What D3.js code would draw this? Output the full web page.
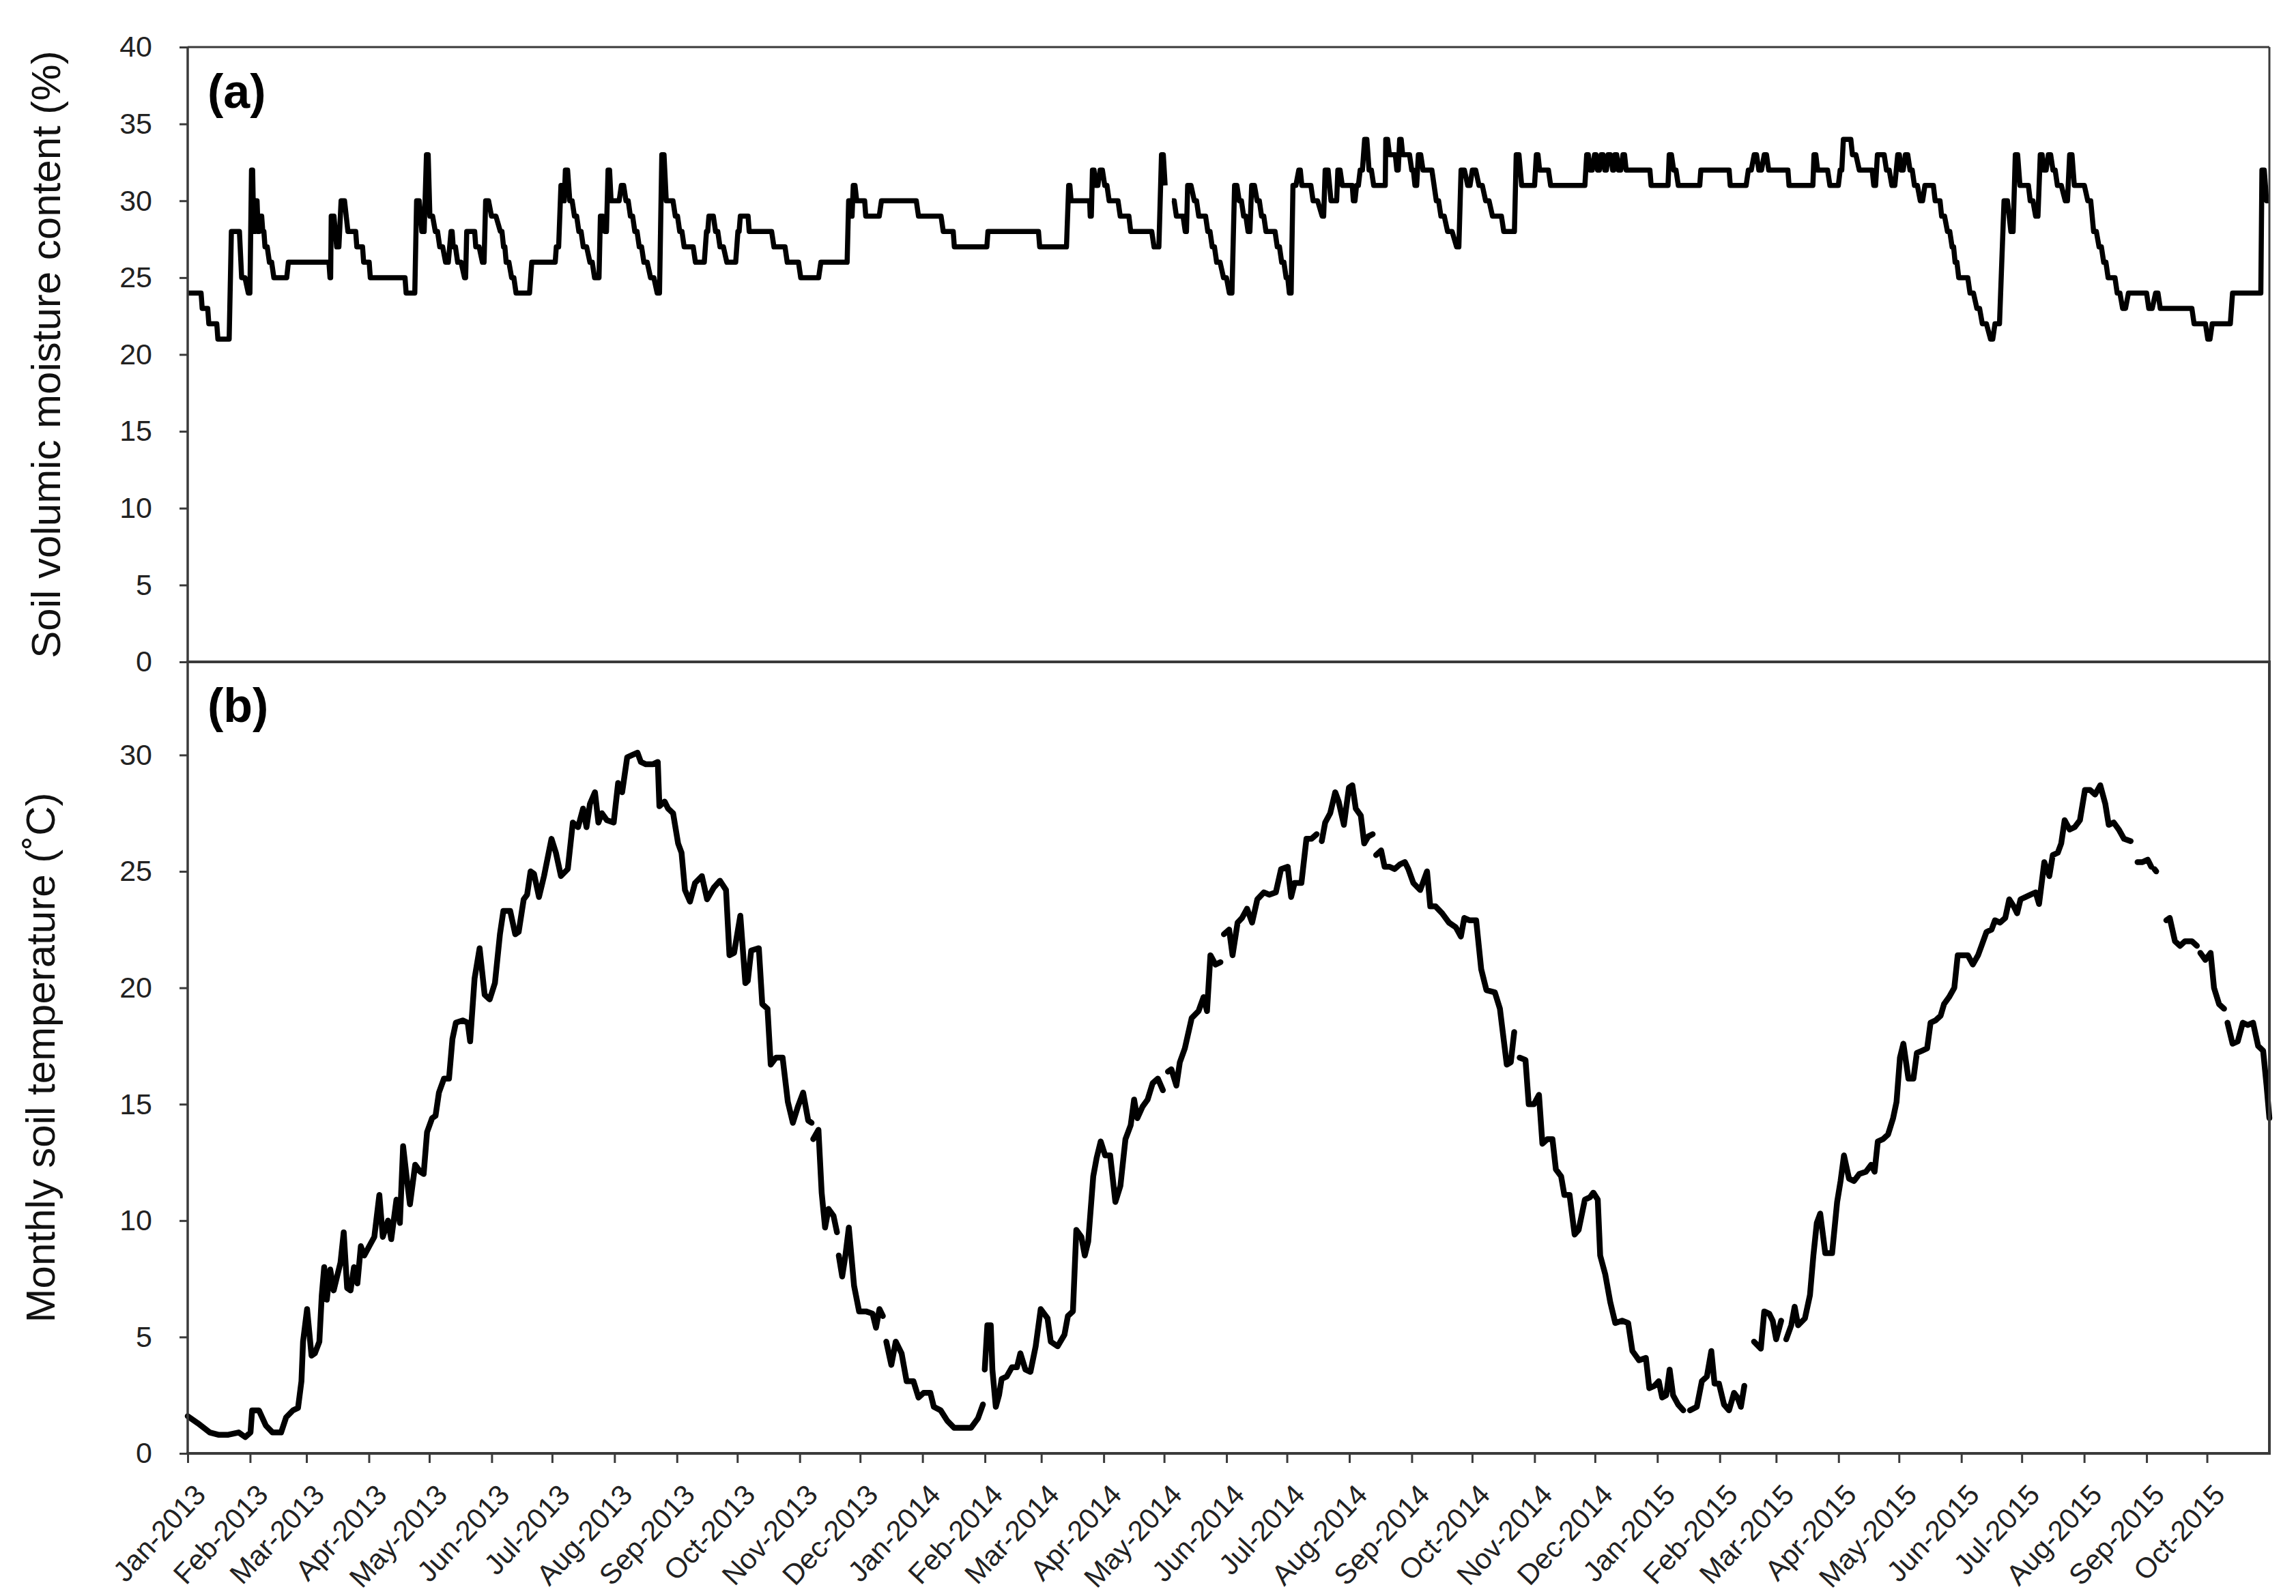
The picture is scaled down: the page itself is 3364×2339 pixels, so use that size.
<!DOCTYPE html>
<html>
<head>
<meta charset="utf-8">
<script src="https://cdn.jsdelivr.net/npm/d3@7"></script>
<style>
html,body{margin:0;padding:0;background:#fff;}
svg{display:block;}
text{font-family:"Liberation Sans",Arial,Helvetica,sans-serif;}
</style>
</head>
<body>
<svg id="chart" width="3364" height="2339"></svg>
<script>
// ---------------- DATA ----------------
const seriesStart = Date.UTC(2013, 0, 1);
const seriesEnd = Date.UTC(2015, 10, 1);

const xTickLabels = ["Jan-2013","Feb-2013","Mar-2013","Apr-2013","May-2013","Jun-2013","Jul-2013","Aug-2013","Sep-2013","Oct-2013","Nov-2013","Dec-2013",
  "Jan-2014","Feb-2014","Mar-2014","Apr-2014","May-2014","Jun-2014","Jul-2014","Aug-2014","Sep-2014","Oct-2014","Nov-2014","Dec-2014",
  "Jan-2015","Feb-2015","Mar-2015","Apr-2015","May-2015","Jun-2015","Jul-2015","Aug-2015","Sep-2015","Oct-2015"];
const moistureTicks = [0,5,10,15,20,25,30,35,40];
const temperatureTicks = [0,5,10,15,20,25,30];

// [day since 1 Jan 2013, soil volumetric moisture %] ; null = missing
const moisture = [[0,24],[6.1,24],[7.2,23],[9.4,23],[10.5,22],[13.9,22],[15,21],[19.5,21],[21.7,28],[24.6,28],[26.8,25],[30.1,24],[31.7,32],[32.8,28],[33.9,30],[35,28],[36.2,29],[37.3,28],[38.4,27],[40.6,26],[42.8,25],[48.4,25],[50,26],[69.6,26],[70.7,25],[71.3,29],[74,27],[76.2,30],[79.6,28],[82.9,28],[84,27],[86.3,27],[87.4,26],[89.6,26],[90.7,25],[107.4,25],[108.5,24],[111.9,24],[113.7,30],[116.3,28],[118.6,33],[120.3,29],[123,28],[125.2,27],[128.1,26],[130.8,28],[131.9,27],[134.1,26],[137.5,25],[138.6,28],[142,28],[143.1,27],[146.4,26],[148,30],[150.9,29],[155.3,28],[156.9,27],[158.2,26],[160.9,25],[163.1,24],[168.7,24],[170.9,26],[182,26],[183.1,27],[185.4,31],[186.5,30],[187.6,32],[189.8,30],[192.1,29],[194.3,28],[196.5,27],[199.8,26],[202.1,25],[203.6,25],[205,29],[207.2,28],[208.8,32],[210.3,30],[213.2,30],[215.4,31],[217.7,30],[219.9,29],[222.1,28],[224.3,27],[226.6,26],[229.9,25],[233.2,24],[235.5,33],[237.7,30],[239.9,30],[242.2,29],[244.4,28],[246.6,27],[250,27],[252.2,26],[255.5,26],[257.7,28],[258.9,29],[260,29],[262.2,28],[264.4,27],[267.8,26],[271.1,26],[273.3,28],[274.5,29],[277.8,29],[278.9,28],[288.9,28],[291.2,27],[295.6,27],[297.8,26],[302.3,26],[304.5,25],[312.3,25],[314.5,26],[326.8,26],[328.3,30],[329.4,29],[330.6,31],[332.3,30],[335.7,30],[336.8,29],[342.4,29],[344.6,30],
[360.8,30],[363,29],[373.1,29],[375.3,28],[379.7,28],[380.8,27],[396.4,27],[397.5,28],[422,28],[423.2,27],[435.4,27],[437.6,31],[438.8,30],[447.7,30],[448.3,29],[449.4,32],[451,31],[453.2,32],[455.5,31],[457.7,30],[461,30],[463.2,29],[466.6,29],[468.4,28],[477.7,28],[480,27],[481.1,27],[483.7,33],[485.5,31],[486.5,null],[488.9,30],[491.1,29],[493.3,29],[495.5,28],[496.7,31],[500,30],[502.2,29],[504.5,29],[506.7,28],[508.9,27],[511.1,26],[514.5,25],[517.4,24],[520,31],[522.3,30],[524.5,29],[526.7,28],[528.5,31],[531.2,30],[533.4,29],[535.6,28],[539,28],[541.2,27],[543.4,26],[545.6,25],[547.2,24],[549,31],[551.9,32],[553.4,31],[556.8,31],[559,30],[563.5,29],[565,32],[567.9,30],[570.1,30],[571.3,32],[573.5,31],[577.9,31],[579,30],[580.6,31],[582.4,32],[584.6,34],[586.8,32],[589.1,31],[594.6,31],[595.1,34],[596.9,33],[599.1,33],[600.6,32],[602,34],[603.5,33],[605.8,33],[608,32],[609.6,31],[611.3,33],[613.6,32],[615.8,32],[620.2,30],[622.5,29],[625.8,28],[630.3,27],[632.5,32],[635.8,31],[638.1,32],[641.4,31],[644.7,30],[648.1,29],[651.4,29],[653.7,28],[658.1,28],[659.9,33],[662.6,31],[668.1,31],[669.9,33],[671.5,32],[674.8,32],[677,31],[693.1,31],
[694.9,33],[696.5,32],[698.8,33],[700.3,32],[702.1,33],[703.9,32],[705.5,33],[707.8,32],[708.9,33],[710.7,32],[712.9,33],[714.5,32],[725.7,32],[726.9,31],[734.7,31],[735.9,33],[738.1,32],[740.4,31],[750.5,31],[751.6,32],[765.1,32],[766.2,31],[773,31],[775.2,32],[778.1,33],[780.4,32],[783.1,33],[785.3,32],[794.3,32],[795.4,31],[806.7,31],[807.8,33],[809.6,32],[813.4,32],[815.7,31],[819,31],[820.8,32],[822.4,34],[825.3,34],[826.9,33],[830.3,32],[835.9,32],[837.5,31],[839.3,33],[841.5,33],[843.8,32],[846.5,31],[849.4,33],[851,32],[853.2,33],[855.5,32],[857.7,31],[860.6,30],[862.9,31],[866.2,31],[868,30],[869.6,30],[871.2,29],[874.1,28],[876.4,27],[877.9,26],[879.7,25],[883.1,25],[885.3,24],[888.7,23],[891.4,22],[895.5,21],[897.7,22],[902.2,30],[905.6,28],[907.8,33],[910.1,31],[913.4,31],[915.2,30],[917.9,29],[920.2,33],[922,32],[924.2,33],[926.5,32],[928.7,31],[932.6,30],[934.8,33],[937.1,31],[940.4,31],[943.8,30],[946.7,28],[949.4,27],[951.7,26],[953.9,25],[956.2,25],[958.4,24],[961.1,23],[964,24],[971.9,24],[974.1,23],[977.5,24],[979.8,23],[994.4,23],[996.6,22],[1001.1,22],[1003.4,21],[1005.6,22],[1013.5,22],[1015.7,24],[1029.2,24],[1030.3,32],[1032.6,30],[1034,30]];

// [day since 1 Jan 2013, soil temperature °C] ; null = missing
const temperature = [[0,1.6],[5,1.3],[11,0.9],[15.2,0.8],[20.2,0.8],[25.3,0.9],[28.6,0.7],[31.2,0.9],[32,1.85],[35.4,1.85],[38.8,1.2],[42.1,0.9],[46.4,0.9],[48.9,1.55],[52.3,1.85],[54.8,1.95],[56.5,3.1],[57.3,4.8],[59.3,6.2],[61.5,4.2],[63.2,4.3],[65.4,4.8],[66.6,6.8],[67.8,8.0],[69.1,6.6],[70.8,7.9],[72.5,7.0],[74.2,7.6],[75.9,8.2],[77.5,9.5],[79.2,7.1],[80.9,7.0],[82.6,8.0],[84.3,7.3],[86,8.9],[87.7,8.5],[90.2,8.9],[92.7,9.3],[95.2,11.1],[96.9,9.3],[99.5,10.0],[101.1,9.2],[103.7,10.9],[105.4,9.9],[107,13.2],[108.7,11.9],[110.4,10.7],[113,12.4],[115.5,12.1],[117.2,12.0],[118.9,13.8],[121.4,14.4],[123.1,14.5],[124.8,15.5],[127.3,16.1],[129.8,16.1],[131.5,17.8],[133.2,18.5],[136.6,18.6],[139.1,18.5],[140.3,17.7],[142.5,20.4],[145,21.7],[147.5,19.7],[150,19.5],[152.6,20.2],[155.1,22.3],[156.8,23.3],[160.2,23.3],[162.7,22.3],[164.4,22.4],[166.9,23.8],[168.6,24.0],[170.3,25.0],[172,24.9],[174.5,23.9],[177,24.8],[180.7,26.4],[182.9,25.8],[185.4,24.8],[188.8,25.1],[191.3,27.1],[193.9,26.9],[196.4,27.7],[198.1,26.9],[199.8,27.9],[202.3,28.4],[204,27.1],[205.7,27.5],[208.2,27.2],[211.6,27.1],[213.8,28.8],[215.8,28.4],[218.3,29.9],[220.9,30.0],[223.4,30.1],[225.1,29.7],[227.6,29.6],[231,29.6],[233.5,29.7],[234.3,27.8],[236.9,28.0],[238.6,27.7],[241.1,27.5],[243.6,26.2],[245.3,25.8],[247,24.2],[249.5,23.7],[252,24.5],[255.4,24.8],[258,23.8],[261.3,24.3],
[264.4,24.6],[267.4,24.2],[269.1,21.4],[271.4,21.5],[274.5,23.1],[277,20.2],[278.2,20.3],[279.9,21.6],[283.7,21.7],[285.4,19.3],[288,19.1],[289.6,16.7],[292.2,17.0],[295.5,17.0],[298.1,15.1],[300.6,14.2],[303.1,14.9],[305.7,15.5],[308.2,14.3],[309.9,14.2],[310.3,null],[310.7,13.5],[313.3,13.9],[314.9,11.2],[316.6,9.7],[318.3,10.5],[320.8,10.2],[322.5,9.5],[323,null],[323.4,8.5],[325.1,7.6],[326.7,8.5],[328.4,9.7],[331,7.2],[333.5,6.1],[336.9,6.1],[340.2,6.0],[341.9,5.4],[343.6,6.2],[345.3,5.9],[346,null],[347,4.8],[349.5,3.8],[351.7,4.8],[354.6,4.3],[357.1,3.1],[360.5,3.1],[363,2.4],[365.5,2.6],[368.9,2.6],[370.6,2.0],[374,1.85],[377.3,1.4],[380.7,1.1],[389.1,1.1],[392.5,1.5],[395,2.1],[395.4,null],[395.9,3.6],[397.2,5.5],[398.9,5.5],[399.7,3.6],[401.4,2.0],[403,2.5],[404.3,3.2],[406.8,3.3],[409.4,3.7],[411.9,3.7],[413.6,4.3],[416.1,3.6],[418.6,3.5],[421.2,4.6],[423.7,6.2],[427.1,5.8],[428.7,4.8],[432.1,4.6],[435.5,5.1],[437.2,5.9],[439.7,6.1],[441.4,9.6],[443.9,9.3],[445.6,8.5],[447.3,9.1],[449.8,11.9],[451.5,12.7],[453.5,13.4],[455.7,12.8],[458.2,12.8],[460.8,10.8],[463.3,11.5],[465.8,13.5],[468.4,14.1],[470.1,15.2],[471.7,14.4],[474.3,14.9],[476.8,15.2],[479.3,15.9],[481.9,16.1],[484.4,15.6],[485.5,null],[486.9,16.4],[488.6,16.5],[491.1,15.8],[492.8,16.8],[495.3,17.4],[498.7,18.7],[502.1,19.0],[504.6,19.6],[506.3,19.0],[508,21.4],[510.5,21.0],[513,21.1],[513.8,null],[514.7,22.3],[517.3,22.5],[519,21.4],[521.5,22.8],
[523.7,23.0],[526.2,23.4],[528.7,22.8],[531.3,23.8],[534.6,24.1],[537.2,24.0],[540.5,24.1],[543.1,25.1],[546.4,25.2],[548.1,23.9],[549.8,24.5],[553.2,24.5],[555.7,26.4],[558.2,26.4],[560.8,26.6],[562,null],[563.3,26.3],[565,27.1],[567.5,27.5],[570,28.4],[571.7,28.0],[574.3,27.0],[576.8,28.6],[578.5,28.7],[580.2,27.7],[582.7,27.4],[584.4,26.2],[586.4,26.5],[588.6,26.6],[589.5,null],[590.3,25.7],[592.8,25.9],[594.5,25.2],[597,25.2],[599.5,25.1],[602.1,25.3],[604.6,25.4],[606.3,25.1],[608.8,24.5],[612.2,24.2],[615.6,25.0],[617.2,23.5],[619.8,23.5],[623.1,23.2],[626.5,22.8],[629.9,22.6],[632.4,22.2],[634.1,23.0],[636.6,22.9],[640,22.9],[642.5,20.8],[645.1,19.9],[649.3,19.8],[651.8,19.1],[655.2,16.7],[657.2,16.8],[658.9,18.1],[660,null],[661.6,17.0],[664.5,16.9],[666.1,15.0],[668.7,15.0],[671.2,15.4],[672.9,13.3],[675.4,13.5],[677.9,13.5],[679.6,12.2],[682.2,11.9],[683.8,11.1],[686.4,11.1],[688.9,9.4],[690.9,9.6],[694,10.9],[696.5,11.0],[698.2,11.2],[700.4,10.9],[701.6,8.5],[704.1,7.7],[706.6,6.5],[709.1,5.6],[712.5,5.7],[715.5,5.6],[717.6,4.4],[720.9,4.0],[724.3,4.1],[726,2.8],[728.5,2.9],[730.7,3.1],[732.4,2.4],[734.4,2.5],[736.1,3.6],[737.8,2.5],[740.3,2.1],[742.9,1.85],[744.5,null],[746.2,1.85],[749.6,2.0],[752.1,3.1],[754.6,3.3],[756.8,4.4],[758.4,3.0],[760.6,3.0],[763.1,2.1],[765.6,1.85],[768.1,2.6],[769.8,2.4],[771.5,2.0],[773.2,2.9],[775,null],
[778,4.8],[781.4,4.5],[783.1,6.1],[785.6,6.0],[787.3,5.7],[789,4.9],[791.5,5.7],[792.5,null],[794,4.9],[796.5,5.5],[798.2,6.3],[799.9,5.5],[803.3,5.8],[805.8,6.8],[807.5,8.5],[809.2,9.9],[810.9,10.3],[813.4,8.6],[816.8,8.6],[819.3,10.8],[821,11.7],[822.7,12.8],[825.2,11.8],[827.7,11.7],[830.3,12.0],[833.6,12.1],[836.2,12.4],[837.9,12.1],[839.5,13.4],[842.1,13.5],[844.6,13.7],[847.1,14.4],[848.8,15.1],[850.5,17.0],[852.2,17.6],[854.7,16.1],[857.2,16.1],[858.9,17.2],[861.5,17.3],[864,17.4],[865.7,18.5],[868.2,18.6],[870.7,18.8],[872.4,19.3],[874.9,19.6],[877.5,20.0],[879.2,21.4],[881.7,21.4],[884.2,21.4],[886.7,21.0],[889.3,21.4],[891,21.8],[893.5,22.4],[896,22.5],[897.7,22.9],[900.2,22.8],[902.8,23.0],[904.8,23.8],[907,23.5],[908.7,23.2],[910.4,23.8],[912.9,23.9],[915.4,24.0],[917.9,24.1],[919.6,23.6],[922.2,25.4],[924.7,24.8],[926.4,25.7],[928.9,25.8],[930.6,26.2],[932.3,27.2],[934.8,26.8],[937.3,26.9],[939.9,27.2],[942.4,28.5],[944.9,28.5],[947.4,28.3],[950,28.7],[952.5,27.9],[954.2,27.0],[956.7,27.1],[959.2,26.8],[961.8,26.4],[965.1,26.3],[966.5,null],[968.5,25.4],[971,25.4],[973.6,25.5],[975.3,25.2],[976,null],[976.9,25.1],[977.8,25.0],[980,null],[982.8,22.9],[984.5,23.0],[987.1,22.0],[989.6,21.8],[992.1,22.0],[995.5,22.0],[998,21.8],[998.8,null],[999.7,21.5],[1002.2,21.2],[1004.8,21.5],[1006.5,20.0],[1009,19.3],[1011.5,19.1],[1012.3,null],[1013.2,18.5],[1015.7,17.6],[1018.3,17.7],[1020.8,18.5],[1023.3,18.4],[1025.9,18.5],[1028.4,17.5],[1030.9,17.3],[1032.6,15.8],[1034,14.4]];

// ---------------- LAYOUT ----------------
const L = 275, R = 3325;
const aTop = 69, aBot = 970, bTop = 970, bBot = 2130;
const axisColor = "#3a3a3a";

const svg = d3.select("#chart");
svg.append("rect").attr("width",3364).attr("height",2339).attr("fill","#fff");

const x = d3.scaleUtc().domain([new Date(seriesStart), new Date(seriesEnd)]).range([L, R]);
const yA = d3.scaleLinear().domain([0, 40]).range([aBot, aTop]);
const yB = d3.scaleLinear().domain([0, 34]).range([bBot, bTop]);
const dayDate = d => new Date(seriesStart + d * 864e5);

// curve: hold each reading for half of the interval, then ramp to the next reading
function curveHoldRamp(context) {
  let px, py, n;
  return {
    areaStart(){}, areaEnd(){},
    lineStart(){ n = 0; },
    lineEnd(){},
    point(x, y){
      if (n === 0) { context.moveTo(x, y); }
      else { context.lineTo(px + 0.5 * (x - px), py); context.lineTo(x, y); }
      px = x; py = y; n++;
    }
  };
}

// data lines
const lineA = d3.line().defined(d => d[1] !== null).curve(curveHoldRamp)
  .x(d => x(dayDate(d[0]))).y(d => yA(d[1]));
const lineB = d3.line().defined(d => d[1] !== null).x(d => x(dayDate(d[0]))).y(d => yB(d[1]));

svg.append("path").datum(moisture).attr("d", lineA)
  .attr("fill","none").attr("stroke","#000").attr("stroke-width",7.5).attr("stroke-linejoin","round");
svg.append("path").datum(temperature).attr("d", lineB)
  .attr("fill","none").attr("stroke","#000").attr("stroke-width",8.5).attr("stroke-linejoin","round").attr("stroke-linecap","round");

// y axes
function styleAxis(g){
  g.select(".domain").remove();
  g.selectAll(".tick line").attr("stroke",axisColor).attr("stroke-width",3);
  g.selectAll(".tick text").attr("fill","#222").style("font-size","43px")
    .style("font-family",'"Liberation Sans",Arial,sans-serif');
}
svg.append("g").attr("transform",`translate(${L},0)`)
  .call(d3.axisLeft(yA).tickValues(moistureTicks).tickSize(12).tickPadding(40).tickFormat(d3.format("d")))
  .call(styleAxis);
svg.append("g").attr("transform",`translate(${L},0)`)
  .call(d3.axisLeft(yB).tickValues(temperatureTicks).tickSize(12).tickPadding(40).tickFormat(d3.format("d")))
  .call(styleAxis);

// x axis
const monthTicks = d3.utcMonth.range(new Date(seriesStart), new Date(seriesEnd));
const xg = svg.append("g").attr("transform",`translate(0,${bBot})`)
  .call(d3.axisBottom(x).tickValues(monthTicks).tickSize(14).tickFormat((d,i) => xTickLabels[i]));
xg.select(".domain").remove();
xg.selectAll(".tick line").attr("stroke",axisColor).attr("stroke-width",3);
xg.selectAll(".tick text")
  .attr("fill","#222").style("font-size","42px").style("font-family",'"Liberation Sans",Arial,sans-serif')
  .attr("x",null).attr("y",null).attr("dy","0.72em")
  .attr("text-anchor","end")
  .attr("transform","translate(6,42) rotate(-47)");

// frames
const frame = svg.append("g").attr("stroke",axisColor).attr("fill","none");
frame.append("line").attr("x1",L).attr("x2",R).attr("y1",aTop).attr("y2",aTop).attr("stroke-width",3);
frame.append("line").attr("x1",R).attr("x2",R).attr("y1",aTop).attr("y2",aBot).attr("stroke-width",3);
frame.append("line").attr("x1",R).attr("x2",R).attr("y1",bTop).attr("y2",bBot).attr("stroke-width",4);
frame.append("line").attr("x1",L).attr("x2",L).attr("y1",aTop).attr("y2",bBot+1).attr("stroke-width",3.5);
frame.append("line").attr("x1",L-2).attr("x2",R+2).attr("y1",aBot).attr("y2",aBot).attr("stroke-width",4);
frame.append("line").attr("x1",L-2).attr("x2",R+2).attr("y1",bBot).attr("y2",bBot).attr("stroke-width",4);

// panel labels
svg.append("text").attr("x",304).attr("y",158).text("(a)")
  .style("font-size","70px").style("font-weight","bold").attr("fill","#000");
svg.append("text").attr("x",304).attr("y",1058).text("(b)")
  .style("font-size","70px").style("font-weight","bold").attr("fill","#000");

// axis titles
svg.append("text").attr("transform",`translate(88,${(aTop+aBot)/2}) rotate(-90)`)
  .attr("text-anchor","middle").style("font-size","60px").attr("fill","#111")
  .text("Soil volumic moisture content (%)");
svg.append("text").attr("transform",`translate(80,${(bTop+bBot)/2}) rotate(-90)`)
  .attr("text-anchor","middle").style("font-size","60px").attr("fill","#111")
  .text("Monthly soil temperature (˚C)");
</script>
</body>
</html>
